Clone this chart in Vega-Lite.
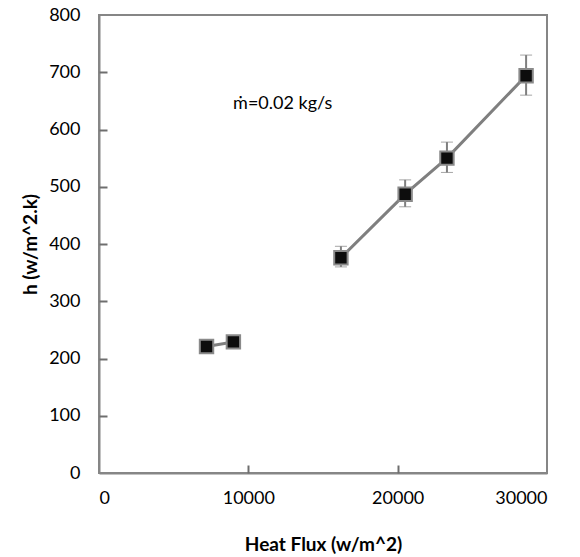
{
  "$schema": "https://vega.github.io/schema/vega-lite/v6.json",
  "autosize": "none",
  "width": 448,
  "height": 458,
  "padding": {"left": 99, "top": 15, "right": 33, "bottom": 84},
  "background": "white",
  "config": {
    "font": "Lato",
    "view": {"stroke": "#868686", "strokeWidth": 2},
    "axis": {
      "domainColor": "#868686", "domainWidth": 2,
      "tickColor": "#868686", "tickWidth": 2, "tickSize": 6,
      "labelFont": "Lato", "labelFontSize": 18, "labelColor": "#000",
      "titleFont": "Lato", "titleFontSize": 19, "titleFontWeight": "bold", "titleColor": "#000",
      "grid": false
    }
  },
  "data": {
    "values": [
      {"flux": 7200, "h": 221, "group": "a"},
      {"flux": 9000, "h": 229, "group": "a"},
      {"flux": 16200, "h": 376, "hmin": 360, "hmax": 396, "group": "b"},
      {"flux": 20500, "h": 487, "hmin": 465, "hmax": 512, "group": "b"},
      {"flux": 23300, "h": 550, "hmin": 525, "hmax": 578, "group": "b"},
      {"flux": 28600, "h": 694, "hmin": 660, "hmax": 730, "group": "b"}
    ]
  },
  "resolve": {"axis": {"x": "independent", "y": "independent"}},
  "layer": [
    {
      "mark": {"type": "line", "color": "#7f7f7f", "strokeWidth": 3},
      "encoding": {
        "x": {"field": "flux", "type": "quantitative", "scale": {"domain": [0, 30000], "nice": false},
          "axis": {"orient": "bottom", "values": [0, 10000, 20000, 30000], "format": "d", "ticks": false, "labelPadding": 16, "title": "Heat Flux (w/m^2)", "titlePadding": 28, "zindex": 1}},
        "y": {"field": "h", "type": "quantitative", "scale": {"domain": [0, 800], "nice": false},
          "axis": {"orient": "left", "values": [0, 100, 200, 300, 400, 500, 600, 700, 800], "ticks": false, "labelPadding": 19, "title": "h (w/m^2.k)", "titlePadding": 8, "zindex": 1}},
        "detail": {"field": "group"}
      }
    },
    {
      "transform": [{"filter": "datum.hmin != null"}],
      "mark": {"type": "errorbar", "ticks": {"size": 12, "color": "#7f7f7f", "strokeWidth": 2}, "rule": {"color": "#7f7f7f", "strokeWidth": 2}},
      "encoding": {
        "x": {"field": "flux", "type": "quantitative", "axis": null},
        "y": {"field": "hmin", "type": "quantitative", "axis": null},
        "y2": {"field": "hmax"}
      }
    },
    {
      "mark": {"type": "point", "shape": "square", "filled": true, "fill": "#0d0d0d", "opacity": 1, "stroke": "#8a8a8a", "strokeWidth": 2, "size": 180},
      "encoding": {
        "x": {"field": "flux", "type": "quantitative",
          "axis": {"orient": "top", "offset": -458, "values": [10000, 20000], "labels": false, "domain": false, "title": null, "ticks": true, "tickSize": 8, "tickWidth": 2, "tickColor": "#6e6e6e", "zindex": 2}},
        "y": {"field": "h", "type": "quantitative",
          "axis": {"orient": "right", "offset": -448, "values": [100, 200, 300, 400, 500, 600, 700], "labels": false, "domain": false, "title": null, "ticks": true, "tickSize": 8, "tickWidth": 2, "tickColor": "#6e6e6e", "zindex": 2}}
      }
    },
    {
      "data": {"values": [{"flux": 12300, "h": 645, "label": "ṁ=0.02 kg/s"}]},
      "mark": {"type": "text", "font": "Lato", "fontSize": 18, "color": "#000", "align": "center", "baseline": "middle"},
      "encoding": {
        "x": {"field": "flux", "type": "quantitative", "axis": null},
        "y": {"field": "h", "type": "quantitative", "axis": null},
        "text": {"field": "label"}
      }
    }
  ]
}
